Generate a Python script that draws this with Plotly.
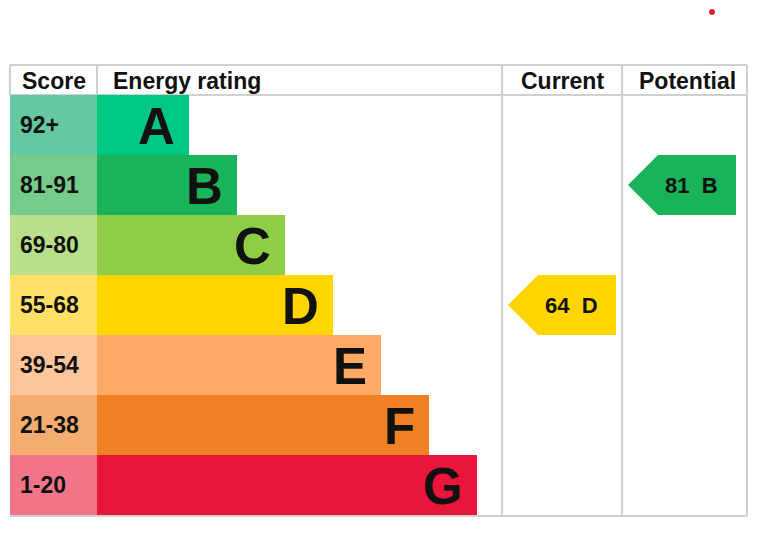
import plotly.graph_objects as go

# ---- data ----
ratings = ["A", "B", "C", "D", "E", "F", "G"]
score_labels = ["92+", "81-91", "69-80", "55-68", "39-54", "21-38", "1-20"]
score_lows = [92, 81, 69, 55, 39, 21, 1]
band_colors = ["#00c781", "#19b459", "#8dce46", "#ffd500", "#fcaa65", "#ef8023", "#e9153b"]
score_colors = ["#64c8a1", "#75cb8b", "#b8e08a", "#ffe066", "#fdc59a", "#f5ac70", "#f27489"]
current_value = 64
potential_value = 81
headers = ["Score", "Energy rating", "Current", "Potential"]

# ---- layout geometry (page-pixel axis units) ----
W, H = 760, 534
OFF = 8  # default page body margin
left, right = 10, 747
top, head_bot, bottom = 65, 95, 515
score_right = 97
col_cur, col_pot = 502, 622
row_h = 60
bar_min, bar_step = 92, 48
arrow_w, arrow_head = 108, 30

row_centers = [head_bot + row_h * (i + 0.5) for i in range(len(ratings))]
bar_lengths = [bar_min + bar_step * i for i in range(len(ratings))]

FONT = "Liberation Sans, Arial, sans-serif"
TXT = "#111111"

fig = go.Figure()

# score cells
fig.add_trace(go.Bar(
    y=row_centers, x=[score_right - left] * len(ratings), base=left,
    orientation="h", width=row_h, marker=dict(color=score_colors, line=dict(width=0)),
    hoverinfo="skip", showlegend=False))
# rating bars
fig.add_trace(go.Bar(
    y=row_centers, x=bar_lengths, base=score_right,
    orientation="h", width=row_h, marker=dict(color=band_colors, line=dict(width=0)),
    hoverinfo="skip", showlegend=False))


def band_index(v):
    for i, lo in enumerate(score_lows):
        if v >= lo:
            return i
    return len(score_lows) - 1


def add_arrow(value, col_left):
    i = band_index(value)
    yc = row_centers[i]
    y0, y1 = yc - row_h / 2, yc + row_h / 2
    tip = col_left + 6
    body = tip + arrow_head
    rr = tip + arrow_w
    fig.add_trace(go.Scatter(
        x=[tip, body, rr, rr, body, tip], y=[yc, y0, y0, y1, y1, yc],
        mode="lines", fill="toself", fillcolor=band_colors[i],
        line=dict(width=0, color=band_colors[i]), hoverinfo="skip", showlegend=False))
    fig.add_annotation(x=(body + rr) / 2 - 6, y=yc, text="<b>%d\u00a0\u00a0%s</b>" % (value, ratings[i]),
                       showarrow=False, xanchor="center", yanchor="middle",
                       font=dict(family=FONT, size=22, color=TXT))


add_arrow(current_value, col_cur)
add_arrow(potential_value, col_pot)

# letters and score labels
for i, r in enumerate(ratings):
    fig.add_annotation(x=score_right + bar_lengths[i] - 12, y=row_centers[i] + 1, text="<b>%s</b>" % r,
                       showarrow=False, xanchor="right", yanchor="middle",
                       font=dict(family=FONT, size=51, color=TXT))
    fig.add_annotation(x=left + 8, y=row_centers[i], text="<b>%s</b>" % score_labels[i],
                       showarrow=False, xanchor="left", yanchor="middle",
                       font=dict(family=FONT, size=23, color=TXT))

# headers
hy = (top + head_bot) / 2 + 1
hfont = dict(family=FONT, size=23, color=TXT)
fig.add_annotation(x=(left + score_right) / 2, y=hy, text="<b>%s</b>" % headers[0], showarrow=False,
                   xanchor="center", yanchor="middle", font=hfont)
fig.add_annotation(x=score_right + 14, y=hy, text="<b>%s</b>" % headers[1], showarrow=False,
                   xanchor="left", yanchor="middle", font=hfont)
fig.add_annotation(x=(col_cur + col_pot) / 2, y=hy, text="<b>%s</b>" % headers[2], showarrow=False,
                   xanchor="center", yanchor="middle", font=hfont)
fig.add_annotation(x=(col_pot + right) / 2 + 3, y=hy, text="<b>%s</b>" % headers[3], showarrow=False,
                   xanchor="center", yanchor="middle", font=hfont)

# grid lines
gc = "#d0d0d0"
lines = [
    (left, top, right, top),
    (left, head_bot, right, head_bot),
    (left, bottom + 1, right, bottom + 1),
    (left, top, left, head_bot),
    (score_right, top, score_right, head_bot),
    (col_cur, top, col_cur, bottom + 1),
    (col_pot, top, col_pot, bottom + 1),
    (right, top, right, bottom + 1),
]
for x0, y0, x1, y1 in lines:
    fig.add_shape(type="line", x0=x0, y0=y0, x1=x1, y1=y1, line=dict(color=gc, width=2), layer="below")

# small red dot near the top (as close to the page top as the figure allows)
fig.add_shape(type="circle", x0=709, y0=9, x1=715, y1=15, fillcolor="#e8232a", line=dict(width=0))

fig.update_layout(
    width=W - OFF, height=H - OFF, margin=dict(l=0, r=0, t=0, b=0),
    paper_bgcolor="white", plot_bgcolor="white", barmode="overlay", bargap=0,
    xaxis=dict(range=[OFF, W], visible=False, fixedrange=True),
    yaxis=dict(range=[H, OFF], visible=False, fixedrange=True),
)
fig.write_html("out.html")
